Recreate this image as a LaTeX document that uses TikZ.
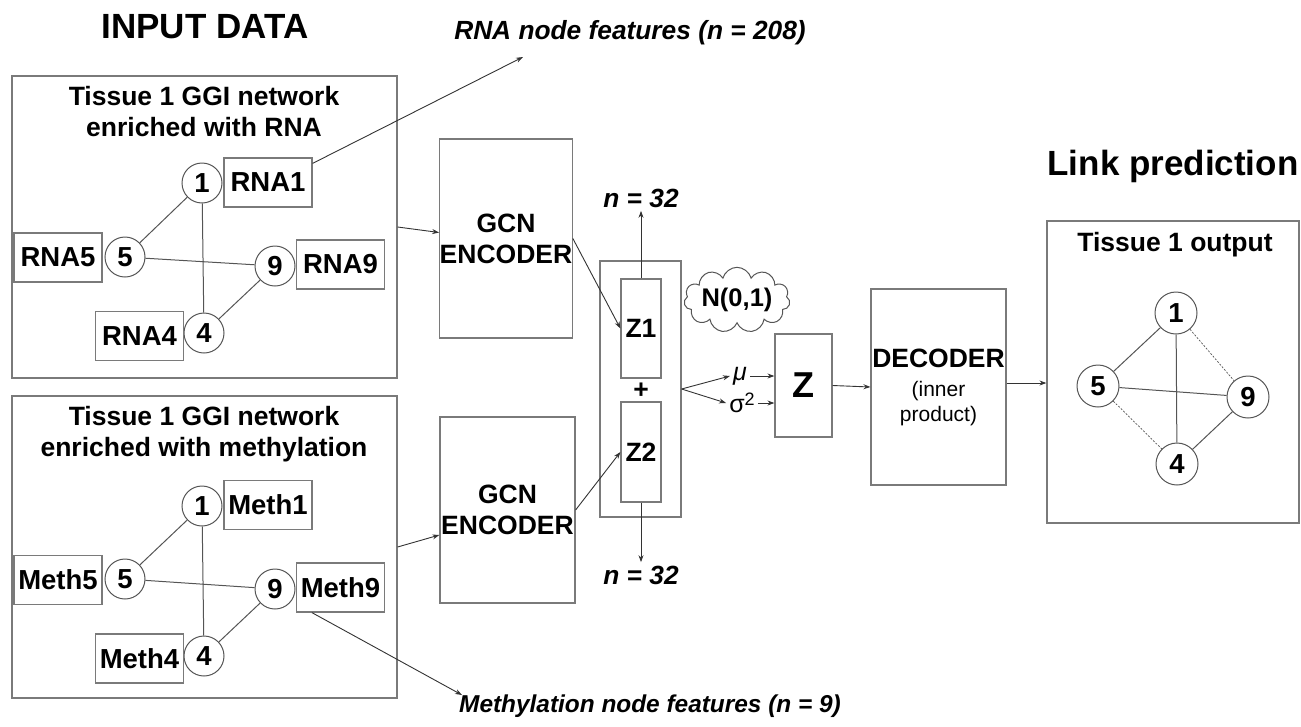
\documentclass[tikz,border=0pt]{standalone}
\usepackage{fontspec}
\setmainfont{Liberation Sans}
\usetikzlibrary{arrows.meta,shapes.symbols}

\newcommand{\labfont}{\fontsize{26.5}{31}\selectfont\bfseries}
\newcommand{\genefont}{\fontsize{27.5}{31}\selectfont\bfseries}
\newcommand{\headfont}{\fontsize{35}{40}\selectfont\bfseries}
\newcommand{\notefont}{\fontsize{26.3}{30}\selectfont\bfseries\itshape}
\newcommand{\smallfont}{\fontsize{21}{24}\selectfont\mdseries}

\definecolor{framegray}{HTML}{7A7A7A}
\definecolor{edgegray}{HTML}{555555}

\tikzset{
  panel/.style={draw=framegray, line width=1.2pt, inner sep=0pt},
  box/.style={draw=framegray, line width=1.2pt, inner sep=0pt, font=\labfont, align=center},
  feat/.style={box, minimum width=88pt, minimum height=49pt, font=\genefont},
  gene/.style={circle, draw=edgegray, line width=1pt, minimum size=40pt, inner sep=0pt, font=\genefont},
  edge/.style={draw=edgegray, line width=1pt},
  arr/.style={draw=black!80, line width=0.9pt, -{Stealth[length=7pt,width=5pt]}},
}

\begin{document}
\begin{tikzpicture}[x=1pt, y=-1pt]
  \useasboundingbox (0,0) rectangle (1301,726);

  % headings
  \node[font=\headfont] (inhead) at (205,27) {INPUT DATA};
  \node[font=\headfont] (linkhead) at (1173,166) {Link prediction};

  % RNA panel
  \node[panel, minimum width=385pt, minimum height=302pt] (pana) at (204.5,227) {};
  \node[font=\labfont, align=center] (tita) at (204,112) {Tissue 1 GGI network\\enriched with RNA};
  \node[gene] (a1) at (202,183) {1};
  \node[gene] (a5) at (125,257) {5};
  \node[gene] (a9) at (275,266) {9};
  \node[gene] (a4) at (204,333) {4};
  \node[feat] (rna1) at (268,182.5) {RNA1};
  \node[feat] (rna5) at (58,257.5) {RNA5};
  \node[feat] (rna9) at (340.5,264.5) {RNA9};
  \node[feat] (rna4) at (139.5,336) {RNA4};
  \draw[edge] (a1) -- (a5) (a1) -- (a4) (a5) -- (a9) (a9) -- (a4);

  % methylation panel
  \node[panel, minimum width=385pt, minimum height=302pt] (panb) at (204.5,547) {};
  \node[font=\labfont, align=center] (titb) at (204,434) {Tissue 1 GGI network\\enriched with methylation};
  \node[gene] (b1) at (202,506) {1};
  \node[gene] (b5) at (125,579) {5};
  \node[gene] (b9) at (275,589) {9};
  \node[gene] (b4) at (204,656) {4};
  \node[feat] (meth1) at (268,505) {Meth1};
  \node[feat] (meth5) at (58,580) {Meth5};
  \node[feat] (meth9) at (340.5,587.5) {Meth9};
  \node[feat] (meth4) at (139.5,658.5) {Meth4};
  \draw[edge] (b1) -- (b5) (b1) -- (b4) (b5) -- (b9) (b9) -- (b4);

  % feature notes
  \node[font=\notefont] (rnanote) at (630,33) {RNA node features (n = 208)};
  \node[font=\fontsize{24.4}{28}\selectfont\bfseries\itshape] (methnote) at (650,706) {Methylation node features (n = 9)};
  \coordinate (rnatip) at (523,57);
  \coordinate (methtip) at (462,695);
  \draw[arr] ([yshift=-6pt]rna1.north east) -- (rnatip);
  \draw[arr] ([xshift=16pt]meth9.south west) -- (methtip);

  % encoders
  \node[box, minimum width=132pt, minimum height=199pt] (enca) at (506,238.5) {GCN\\ENCODER};
  \node[box, minimum width=135pt, minimum height=186pt] (encb) at (507.5,510) {GCN\\ENCODER};
  \draw[arr] (pana.east) -- ([yshift=6pt]enca.west);
  \draw[arr] (panb.east) -- ([yshift=-25pt]encb.west);

  % latent
  \node[box, minimum width=81pt, minimum height=256pt] (zcat) at (640.5,389) {};
  \node[box, minimum width=40pt, minimum height=99pt] (z1) at (641,328.5) {Z1};
  \node[box, minimum width=40pt, minimum height=100pt] (z2) at (641,452) {Z2};
  \node[font=\labfont] (plus) at (641,391) {+};
  \node[font=\notefont] (ntop) at (641,198) {n = 32};
  \node[font=\notefont] (nbot) at (641,575) {n = 32};
  \draw[arr] (enca.east) -- (z1.west);
  \draw[arr] (encb.east) -- (z2.west);
  \draw[arr] (z1.north) -- (ntop.south);
  \draw[arr] (z2.south) -- (nbot.north);
  \node[cloud, cloud puffs=11, aspect=2.2, draw=edgegray, line width=1pt, minimum width=103pt,
        minimum height=53pt, inner sep=0pt, font=\fontsize{25.5}{30}\selectfont\bfseries] (prior) at (737,300) {N(0,1)};

  \node[font=\fontsize{25}{28}\selectfont, inner sep=3pt] (mu) at (740,376) {\textit{μ}};
  \node[font=\fontsize{25}{28}\selectfont, inner sep=3pt] (sig) at (742,403) {σ\raisebox{7pt}{\fontsize{18}{20}\selectfont 2}};
  \node[box, minimum width=57pt, minimum height=103pt, font=\fontsize{36}{40}\selectfont\bfseries] (zz) at (803.5,385.5) {Z};
  \draw[arr] (zcat.east) -- (mu.west);
  \draw[arr] (zcat.east) -- (sig.west);
  \draw[arr] (mu.east) -- (mu.east -| zz.west);
  \draw[arr] (sig.east) -- (sig.east -| zz.west);

  % decoder
  \node[box, minimum width=135pt, minimum height=196pt] (dec) at (938.5,387) {DECODER\\[-2pt]{\smallfont (inner}\\[-6pt]{\smallfont product)}};
  \draw[arr] (zz.east) -- (dec.west);

  % output panel
  \node[panel, minimum width=252pt, minimum height=302pt] (outp) at (1173,372) {};
  \node[font=\labfont] (titc) at (1175,245) {Tissue 1 output};
  \node[gene, minimum size=42pt] (c1) at (1176,313) {1};
  \node[gene, minimum size=42pt] (c5) at (1098,386) {5};
  \node[gene, minimum size=42pt] (c9) at (1248,397) {9};
  \node[gene, minimum size=42pt] (c4) at (1177,464) {4};
  \draw[edge] (c1) -- (c5) (c1) -- (c4) (c5) -- (c9) (c9) -- (c4);
  \draw[edge, line width=0.7pt, dash pattern=on 2pt off 1.5pt] (c1) -- (c9) (c5) -- (c4);
  \coordinate (decout) at ([yshift=4pt]dec.east);
  \draw[arr] (decout) -- (decout -| outp.west);
\end{tikzpicture}
\end{document}
